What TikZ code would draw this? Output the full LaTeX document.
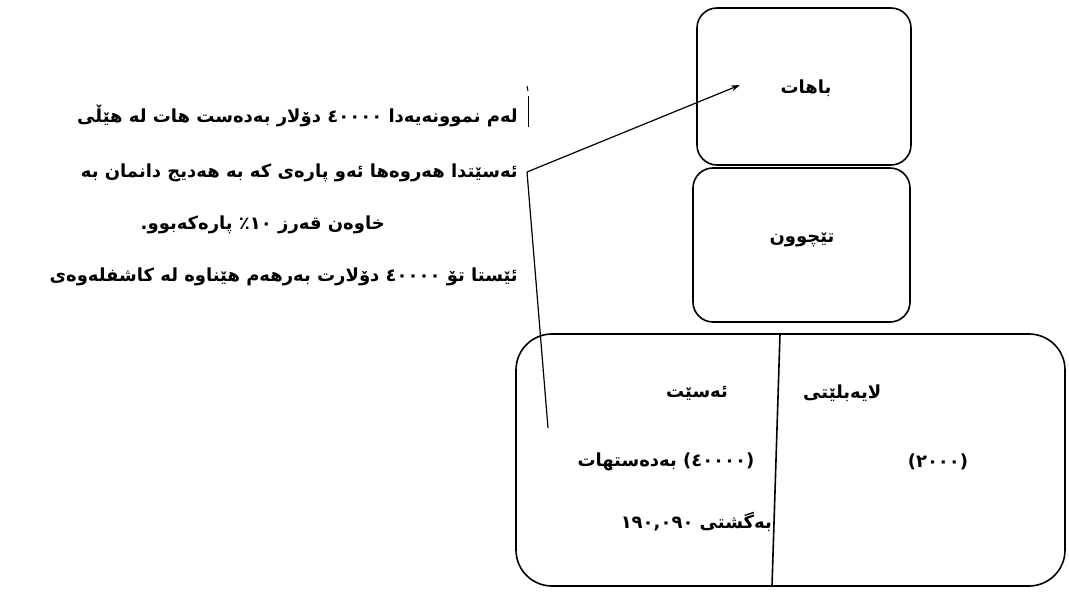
\documentclass[tikz,border=0pt]{standalone}
\usepackage{fontspec}
\TeXXeTstate=1
\newfontfamily\ku[Script=Arabic]{DejaVu Sans}
\usetikzlibrary{arrows.meta}
\tikzset{
  box/.style={draw=black, line width=1.6pt, rounded corners=20pt},
  bigbox/.style={draw=black, line width=1.6pt, rounded corners=36pt},
  lbl/.style={font=\ku\bfseries\fontsize{18}{20}\selectfont, inner sep=0pt},
  conn/.style={draw=black, line width=1.2pt},
}
\begin{document}
\begin{tikzpicture}[x=1pt,y=-1pt]
\useasboundingbox (0,0) rectangle (1069,593);
% boxes
\draw[box] (697,8) rectangle (911,165);
\node[lbl] (income) at (806,88) {\beginR باهات\endR};
\draw[box] (693,168) rectangle (910,322);
\node[lbl] (cost) at (802,240) {\beginR تێچوون\endR};
\draw[bigbox] (516,334) rectangle (1065,586);
\coordinate (dtop) at (780,334);
\coordinate (dbot) at (772,586);
\draw[line width=1.6pt] (dtop) -- (dbot);
\node[lbl] (asset) at (697,393) {\beginR ئەسێت\endR};
\node[lbl, anchor=west] (liab) at (803,393) {\beginR لایەبلێتی\endR};
\node[lbl] (a1) at (666,462) {\beginR (٤٠٠٠٠) بەدەستهات\endR};
\node[lbl] (l1) at (938,462) {\beginR (٢٠٠٠)\endR};
\node[lbl, anchor=east] (a2) at (772,522) {\beginR بەگشتی ١٩٠,٠٩٠\endR};
% left text
\node[lbl, anchor=east] (t1) at (518,116) {\beginR لەم نموونەیەدا ٤٠٠٠٠ دۆلار بەدەست هات لە هێڵی\endR};
\node[lbl, anchor=east] (t2) at (518,173) {\beginR ئەسێتدا هەروەها ئەو پارەی کە بە هەدیج دانمان بە\endR};
\node[lbl, anchor=east] (t3) at (385,225) {\beginR خاوەن قەرز ١٠٪ پارەکەبوو.\endR};
\node[lbl, anchor=east] (t4) at (518,277) {\beginR ئێستا تۆ ٤٠٠٠٠ دۆلارت بەرهەم هێناوە لە کاشفلەوەی\endR};
% marker bar
\coordinate (m0) at (528,96);
\coordinate (m1) at (528,127);
\draw[line width=1pt] (m0) -- (m1);
\coordinate (m2) at (527,86);
\coordinate (m3) at (528,91);
\draw[line width=1pt] (m2) -- (m3);
% connectors
\coordinate (j) at (527,172);
\coordinate (tip) at (740,85);
\coordinate (low) at (548,428);
\draw[conn, -{Stealth[length=9pt,width=6pt]}] (j) -- (tip);
\draw[conn] (j) -- (low);
\end{tikzpicture}
\end{document}
